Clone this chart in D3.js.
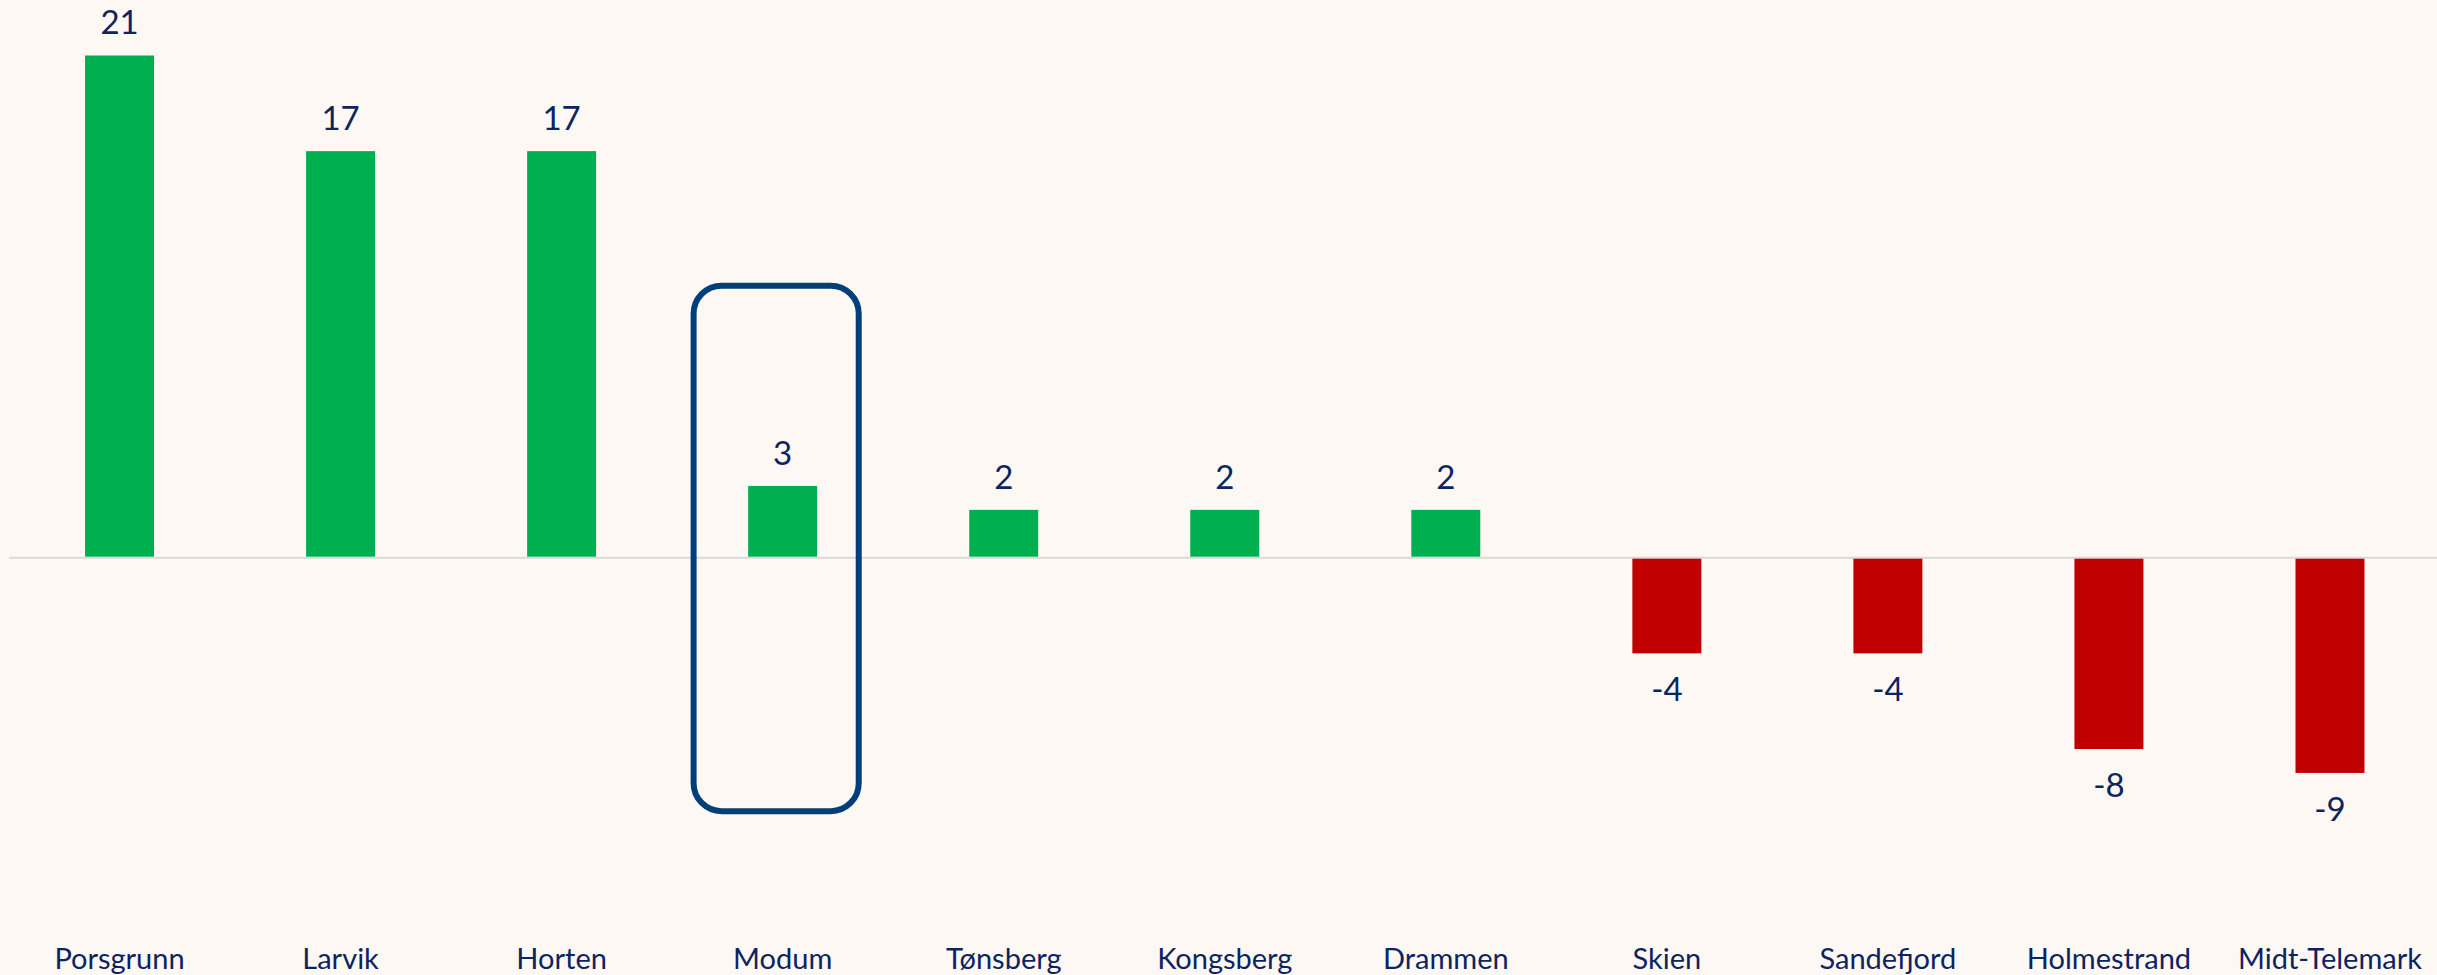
<!DOCTYPE html>
<html>
<head>
<meta charset="utf-8">
<script src="https://cdn.jsdelivr.net/npm/d3@7"></script>
<style>
  html, body { margin: 0; padding: 0; background: #fdf8f4; }
  svg { display: block; }
  text { font-family: Lato, "Open Sans", sans-serif; fill: #0c2461; }
</style>
</head>
<body>
<svg id="chart" width="2437" height="975"></svg>
<script>
const categories = ["Porsgrunn", "Larvik", "Horten", "Modum", "Tønsberg", "Kongsberg", "Drammen", "Skien", "Sandefjord", "Holmestrand", "Midt-Telemark"];
const values = [21, 17, 17, 3, 2, 2, 2, -4, -4, -8, -9];
const highlightCategory = "Modum";
const highlightRange = [11.37, -10.6]; // in data units

const W = 2437, H = 975;
const svg = d3.select("#chart");
svg.append("rect").attr("width", W).attr("height", H).attr("fill", "#fdf8f4");

const x = d3.scaleBand().domain(categories).range([9, 2440.5]).paddingInner(0.688).paddingOuter(0.344);
const y = d3.scaleLinear().domain([-17.45, 23.32]).range([H, 0]);

// baseline
svg.append("line")
  .attr("x1", 9).attr("x2", W)
  .attr("y1", y(0)).attr("y2", y(0))
  .attr("stroke", "#d9d9d9").attr("stroke-width", 2);

const data = categories.map((c, i) => ({ c, v: values[i] }));

svg.selectAll("rect.bar").data(data).enter().append("rect")
  .attr("class", "bar")
  .attr("x", d => x(d.c))
  .attr("width", x.bandwidth())
  .attr("y", d => d.v >= 0 ? y(d.v) : y(0) + 1)
  .attr("height", d => d.v >= 0 ? y(0) - y(d.v) - 1 : y(d.v) - y(0) - 1)
  .attr("fill", d => d.v >= 0 ? "#00b050" : "#c00000");

// value labels
svg.selectAll("text.val").data(data).enter().append("text")
  .attr("class", "val")
  .attr("x", d => x(d.c) + x.bandwidth() / 2)
  .attr("y", d => d.v >= 0 ? y(d.v) - 21 : y(d.v) + 48)
  .attr("text-anchor", "middle")
  .attr("font-size", 33)
  .text(d => d.v);

// category labels
const xAxis = d3.axisBottom(x).tickSize(0).tickPadding(0);
const ax = svg.append("g").attr("transform", `translate(0, 941)`).call(xAxis);
ax.select(".domain").remove();
ax.selectAll("text")
  .attr("font-size", 29)
  .attr("dy", "0.96em")
  .style("font-family", "Lato, 'Open Sans', sans-serif")
  .attr("fill", "#0c2461");

// highlight box
const hx = x(highlightCategory) + x.bandwidth() / 2;
const boxW = x.step() * 0.747;
svg.append("rect")
  .attr("x", hx - 6.5 - boxW / 2)
  .attr("y", y(highlightRange[0]))
  .attr("width", boxW)
  .attr("height", y(highlightRange[1]) - y(highlightRange[0]))
  .attr("rx", 28).attr("ry", 28)
  .attr("fill", "none")
  .attr("stroke", "#003f7a")
  .attr("stroke-width", 6);
</script>
</body>
</html>
